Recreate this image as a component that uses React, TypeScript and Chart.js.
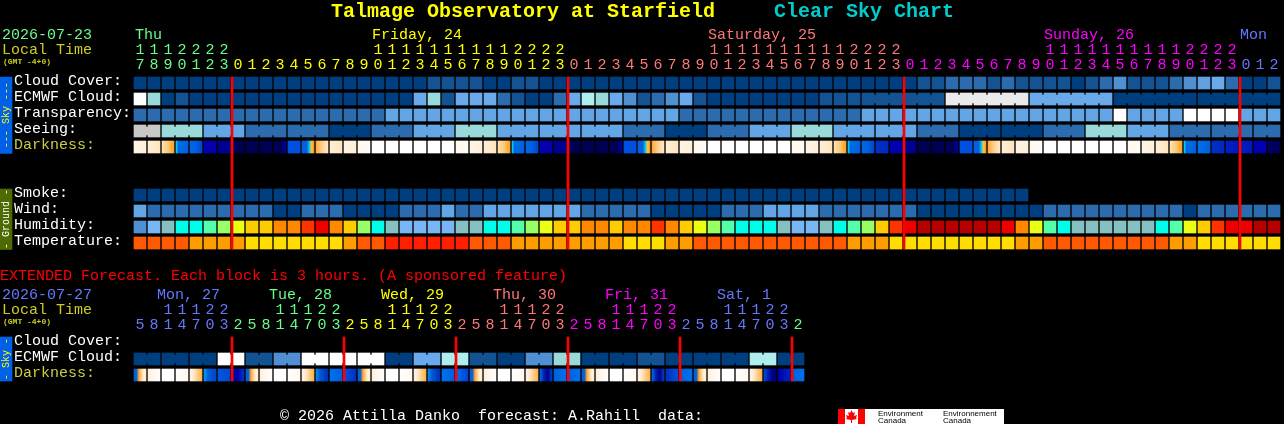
import React, { useEffect, useRef } from "react";
import { Chart, registerables } from "chart.js";

Chart.register(...registerables);

// ---------- data ----------
const titleText = "Talmage Observatory at Starfield";
const subtitleText = "Clear Sky Chart";
const extendedText = "EXTENDED Forecast. Each block is 3 hours. (A sponsored feature)";
const footerText = "© 2026 Attilla Danko  forecast: A.Rahill  data:";

const mainDate = "2026-07-23";
const extDate = "2026-07-27";

const mainHours = [17,18,19,20,21,22,23,0,1,2,3,4,5,6,7,8,9,10,11,12,13,14,15,16,17,18,19,20,21,22,23,0,1,2,3,4,5,6,7,8,9,10,11,12,13,14,15,16,17,18,19,20,21,22,23,0,1,2,3,4,5,6,7,8,9,10,11,12,13,14,15,16,17,18,19,20,21,22,23,0,1,2];
const extHours = [5,8,11,14,17,20,23,2,5,8,11,14,17,20,23,2,5,8,11,14,17,20,23,2,5,8,11,14,17,20,23,2,5,8,11,14,17,20,23,2,5,8,11,14,17,20,23,2];

const mainDayLabels = ["Thu", "Friday, 24", "Saturday, 25", "Sunday, 26", "Mon"];
const mainDayCells = [0.07, 17, 41, 65, 79];
const mainDayChanges = [0, 7, 31, 55, 79];
const extDayLabels = ["Mon, 27", "Tue, 28", "Wed, 29", "Thu, 30", "Fri, 31", "Sat, 1"];
const extDayCells = [1.64, 9.64, 17.64, 25.64, 33.64, 41.64];
const extDayChanges = [0, 7, 15, 23, 31, 39, 47];
const mainMidnights = [7, 31, 55, 79];
const extMidnights = [7, 15, 23, 31, 39, 47];

const cloudCover = [0,0,0,0,0,0,0,0,0,0,0,0,0,0,0,0,0,0,0,0,0,10,10,10,10,0,0,10,10,0,0,0,0,0,0,0,0,0,0,0,0,0,0,0,0,0,0,0,0,0,0,0,0,0,0,0,10,10,20,20,20,10,20,10,10,10,10,0,10,20,30,10,10,10,20,30,40,50,20,0,0,10];
const ecmwfCloud = [100,70,0,10,0,0,0,0,0,0,0,0,0,0,0,0,0,0,0,0,50,70,10,50,50,50,20,10,0,0,20,50,60,70,50,30,10,20,30,50,10,0,0,0,0,0,0,0,0,10,10,10,10,10,10,10,10,10,90,90,90,90,90,90,50,50,50,50,50,50,0,0,0,0,0,0,0,0,0,0,0,0];
const ecmwfGroups = [52, 58, 64, 70, 76];
const transparency = [1,1,1,1,1,1,1,1,1,1,1,1,1,1,1,1,1,1,2,2,2,2,2,2,2,2,2,2,2,2,2,2,2,2,2,2,2,2,2,1,1,1,1,1,1,1,1,1,1,1,1,1,2,2,2,2,2,2,2,2,2,2,2,2,2,2,2,2,2,2,5,2,2,2,2,5,5,5,5,2,2,2];
const seeing = [4,4,3,3,3,2,2,2,1,1,1,1,1,1,0,0,0,1,1,1,2,2,2,3,3,3,2,2,2,2,2,2,2,2,2,1,1,1,0,0,0,1,1,1,2,2,2,3,3,3,2,2,2,2,2,2,1,1,1,0,0,0,0,0,0,1,1,1,3,3,3,2,2,2,1,1,1,1,1,1,1,1];
const seeingGroups = [0,2,5,8,11,14,17,20,23,26,29,32,35,38,41,44,47,50,53,56,59,62,65,68,71,74,77,80];
const darkness = ["b","c","d","e","f","g","h","i","i","i","j","k","m","n","c","b","a","W","W","W","W","W","W","a","b","c","d","e","f","g","h","i","i","i","j","k","m","n","c","b","a","W","W","W","W","W","W","a","b","c","d","e","f","p","g","h","i","i","j","k","m","n","c","b","a","W","W","W","W","W","W","a","b","c","d","e","q","p","o","o","g","r"];
const smoke = [0,0,0,0,0,0,0,0,0,0,0,0,0,0,0,0,0,0,0,0,0,0,0,0,0,0,0,0,0,0,0,0,0,0,0,0,0,0,0,0,0,0,0,0,0,0,0,0,0,0,0,0,0,0,0,0,0,0,0,0,0,0,0,0];
const wind = [2,1,1,1,1,1,1,1,1,1,0,0,1,1,1,0,0,0,0,1,1,1,2,1,1,2,2,2,2,2,2,2,1,1,1,1,1,0,0,0,0,0,1,1,1,2,2,2,2,1,1,1,1,1,1,1,0,0,0,0,0,0,0,0,0,1,1,1,1,1,1,1,1,1,1,0,1,1,1,1,1,1];
const humidity = ["A","B","C","D","D","E","F","G","H","H","I","I","J","K","I","H","F","D","C","B","B","B","B","C","C","D","D","E","F","G","H","H","I","I","H","I","I","J","I","H","G","F","E","D","D","D","C","B","B","C","D","E","F","H","J","K","L","L","L","L","L","L","K","I","G","E","D","C","C","C","C","C","C","D","E","G","H","J","K","K","L","L"];
const temperature = ["O","O","O","O","P","P","P","P","Y","Y","Y","Y","Y","Y","Y","P","O","O","R","R","R","R","R","R","O","O","O","P","P","P","P","P","P","P","P","Y","Y","Y","P","P","O","O","O","O","O","O","O","O","O","O","O","P","P","P","Y","Y","Y","Y","Y","Y","Y","Y","Y","P","P","O","O","O","O","O","O","O","O","O","P","P","Y","Y","Y","Y","Y","Y"];
const extEcmwf = [0,0,0,0,0,0,100,100,10,10,30,30,100,100,100,100,100,100,0,0,50,50,60,60,10,10,0,0,30,30,70,70,0,0,0,0,10,10,0,0,0,0,0,0,60,60,0,0];
const extEcmwfGroups = [0,2,4,6,8,10,12,14,16,18,20,22,24,26,28,30,32,34,36,38,40,42,44,46];
const extDarkness = ["A","B","W","B2","C","D","E","F","A","B","W","B2","C","G","H","I","A","B","W","B2","C","G","H","I2","A","B","W","B2","C","K","J","J","A","B","W","B2","C","K","L","J","A","B","W","B2","C","M","N","J"];

const skyLabels = ["Cloud Cover:", "ECMWF Cloud:", "Transparency:", "Seeing:", "Darkness:"];
const groundLabels = ["Smoke:", "Wind:", "Humidity:", "Temperature:"];
const extLabels = ["Cloud Cover:", "ECMWF Cloud:", "Darkness:"];

// ---------- palettes ----------
const cloudColors: Record<number, string> = { 0: "#003f7f", 10: "#135393", 20: "#2c6cae", 30: "#4f8fd2", 40: "#5f9fe2", 50: "#6aa9ec", 60: "#aeeeee", 70: "#99d9d9", 90: "#eaeaea", 100: "#ffffff" };
const levelColors: Record<number, string> = { 0: "#003f7f", 1: "#2c6cae", 2: "#63a5e5", 3: "#99d9d9", 4: "#c8c8c8", 5: "#ffffff" };
const humidityColors: Record<string, string> = { A: "#4f8fd4", B: "#78b6f4", C: "#86c0c0", D: "#00ffe8", E: "#55ffaa", F: "#99ff66", G: "#eaff11", H: "#ffcc00", I: "#ff8800", J: "#ff3300", K: "#ee0000", L: "#b60000" };
const temperatureColors: Record<string, string> = { O: "#ff5a00", P: "#ff9c00", Y: "#ffdd00", R: "#ff2000" };
const darknessRamps: Record<string, string[]> = {
  W: ["#ffffff", "#ffffff"], a: ["#fff9f0", "#fffcf6"], b: ["#fff4e2", "#fff0dc"], c: ["#ffeed4", "#ffe4c0"],
  d: ["#ffe4b8", "#ffc878", "#ffa020"], e: ["#00e0ff", "#0068e0", "#0068e0", "#0068e0", "#0064e0", "#0060dc"],
  f: ["#0068e4", "#0060e0", "#0044c8"], g: ["#0000b0", "#0000b0"], h: ["#000090", "#000090"], i: ["#000050", "#000050"],
  j: ["#000050", "#000050", "#000060", "#0000a0"], k: ["#0050e0", "#0050e0"], m: ["#0060e0", "#0060e0", "#0060e0", "#00c8e8", "#ffc040", "#ff9820"],
  n: ["#ffa838", "#ffd090", "#ffe8c8"], o: ["#0020c0", "#0018b8"], p: ["#0030c8", "#0028c0"], q: ["#0070f0", "#0060d8"], r: ["#000060", "#000058"],
  A: ["#0060d8", "#0060d8", "#ffa030", "#ffd080", "#ffecd0", "#fff4e4"], B: ["#ffeed8", "#fff8f0", "#ffffff"], B2: ["#ffffff", "#fff8ee"],
  C: ["#fff4e4", "#ffe8c8", "#ffc880", "#ffb050"], D: ["#00a0f0", "#0060e0", "#0050d0", "#0048c8"], E: ["#0058dc", "#0048d0"],
  F: ["#0030c0", "#0000a0", "#0000a8", "#0020c0", "#0030c8"], G: ["#0090f0", "#0058d8", "#0040c0", "#0030b8"], H: ["#0070f0", "#0060e0"],
  I: ["#0050e0", "#0030c0"], I2: ["#0070f0", "#0040d0"], J: ["#0060d8", "#0070f0"], K: ["#0070e8", "#0020a8", "#000090", "#0040c0"],
  L: ["#0030c0", "#0050d8"], M: ["#0050d0", "#0020b0", "#000090", "#000070"], N: ["#0000a8", "#0020c0"],
};
const dayCycleMain = ["#66ff88", "#ffff00", "#ff7777", "#ff00ff", "#6677ff"];
const dayCycleExt = ["#6677ff", "#66ff88", "#ffff00", "#ff7777", "#ff00ff", "#6677ff", "#66ff88"];

// ---------- geometry of the plot (1 x unit = one 14px column, 1 y unit = one 16px row) ----------
const W = 1284;
const H = 424;
const X0 = 140, XSTEP = 14, Y0 = 83, YSTEP = 16;
const HALF = 0.375;
const ROW = { cloud: 0, ecmwf: 1, transp: 2, seeing: 3, dark: 4, smoke: 7, wind: 8, humidity: 9, temp: 10, xCloud: 16.25, xEcmwf: 17.25, xDark: 18.25 };
const MIDNIGHT_OFFSET = 6 / 14;
const SIDEBAR_X = (6 - X0) / XSTEP;

type Pt = { x: number; y: [number, number] };

const cells = (n: number, row: number): Pt[] =>
  Array.from({ length: n }, (_, i) => ({ x: i, y: [row - HALF, row + HALF] as [number, number] }));

function cellDataset(colors: string[], row: number) {
  return { type: "bar", data: cells(colors.length, row), backgroundColor: colors, barThickness: 12, order: 5 };
}

function bridgeDataset(colors: string[], row: number, groups: number[]) {
  const pts: Pt[] = [];
  const cols: string[] = [];
  groups.forEach((start, g) => {
    const end = g + 1 < groups.length ? groups[g + 1] : colors.length;
    for (let i = start; i < end - 1; i++) {
      pts.push({ x: i + 0.5, y: [row - 0.25, row + 0.25] });
      cols.push(colors[i]);
    }
  });
  return { type: "bar", data: pts, backgroundColor: cols, barThickness: 2, order: 5 };
}

function gradientDataset(codes: string[], row: number) {
  return {
    type: "bar",
    data: cells(codes.length, row),
    barThickness: 12,
    order: 5,
    backgroundColor: (ctx: any) => {
      if (ctx.type !== "data") return "#000";
      const ramp = darknessRamps[codes[ctx.dataIndex]];
      const scaled = ctx.chart.scales.x.getPixelForValue(ctx.dataIndex);
      const px = Number.isFinite(scaled) ? scaled : X0 + XSTEP * ctx.dataIndex;
      const g = ctx.chart.ctx.createLinearGradient(px - 6, 0, px + 6, 0);
      ramp.forEach((c: string, k: number) => g.addColorStop(k / (ramp.length - 1), c));
      return g;
    },
  };
}

function redLines(midnights: number[], top: number, bottom: number) {
  return {
    type: "bar",
    data: midnights.map((m) => ({ x: m - MIDNIGHT_OFFSET, y: [top, bottom] })),
    backgroundColor: "#ff0000",
    barThickness: 2,
    order: 1,
  };
}

function sidebar(top: number, bottom: number, color: string) {
  return { type: "bar", data: [{ x: SIDEBAR_X, y: [top, bottom] }], backgroundColor: color, barThickness: 12, order: 5 };
}

const dayColor = (i: number, changes: number[], cycle: string[]) => {
  let k = 0;
  changes.forEach((c, j) => { if (i >= c) k = j; });
  return cycle[k];
};

const MONO = '"Liberation Mono", monospace';

const textPlugin = {
  id: "chartText",
  beforeDraw(chart: any) {
    const c = chart.ctx;
    c.save();
    c.fillStyle = "#000";
    c.fillRect(0, 0, W, H);
    c.restore();
  },
  afterDraw(chart: any) {
    const c: CanvasRenderingContext2D = chart.ctx;
    const xs = chart.scales.x;
    const ys = chart.scales.y;
    const put = (t: string, x: number, y: number, color: string, font = `15px ${MONO}`, align: CanvasTextAlign = "left") => {
      c.font = font;
      c.fillStyle = color;
      c.textAlign = align;
      c.textBaseline = "alphabetic";
      c.fillText(t, x, y);
    };
    c.save();
    put(titleText, 331, 17, "#ffff00", `bold 20px ${MONO}`);
    put(subtitleText, 774, 17, "#00cccc", `bold 20px ${MONO}`);

    // main header
    put(mainDate, 2, 39, "#66ff88");
    put("Local Time", 2, 54, "#cccc22");
    put("(GMT -4+0)", 3, 64, "#cccc22", `bold 8px ${MONO}`);
    mainDayLabels.forEach((t, k) => put(t, xs.getPixelForValue(mainDayCells[k]) - 6, 39, dayCycleMain[k]));
    mainHours.forEach((h, i) => {
      const col = dayColor(i, mainDayChanges, dayCycleMain);
      const x = xs.getPixelForValue(i);
      if (h >= 10) put(String(Math.floor(h / 10)), x, 54, col, undefined, "center");
      put(String(h % 10), x, 69, col, undefined, "center");
    });

    // row labels
    const rowLabel = (t: string, row: number, color = "#ffffff") => put(t, 14, ys.getPixelForValue(row) + 2, color);
    skyLabels.forEach((t, k) => rowLabel(t, k, k === 4 ? "#cccc44" : "#ffffff"));
    groundLabels.forEach((t, k) => rowLabel(t, ROW.smoke + k));

    // extended
    put(extendedText, 0, 280, "#ff0000");
    put(extDate, 2, 299, "#6677ff");
    put("Local Time", 2, 314, "#cccc22");
    put("(GMT -4+0)", 3, 324, "#cccc22", `bold 8px ${MONO}`);
    extDayLabels.forEach((t, k) => put(t, xs.getPixelForValue(extDayCells[k]) - 6, 299, dayCycleExt[k]));
    extHours.forEach((h, i) => {
      const col = dayColor(i, extDayChanges, dayCycleExt);
      const x = xs.getPixelForValue(i);
      if (h >= 10) put(String(Math.floor(h / 10)), x, 314, col, undefined, "center");
      put(String(h % 10), x, 329, col, undefined, "center");
    });
    extLabels.forEach((t, k) => rowLabel(t, ROW.xCloud + k, k === 2 ? "#cccc44" : "#ffffff"));

    // sidebars
    const side = (t: string, cy: number, color: string) => {
      c.save();
      c.translate(6, cy);
      c.rotate(-Math.PI / 2);
      c.font = `10px ${MONO}`;
      c.fillStyle = color;
      c.textAlign = "center";
      c.textBaseline = "middle";
      c.fillText(t, 0, 0);
      c.restore();
    };
    side("--- Sky ---", 115, "#ffff00");
    side("- Ground -", 219, "#ffffff");
    side("- Sky -", 359, "#ffff00");

    // footer and logo
    put(footerText, 280, 420, "#ffffff");
    c.fillStyle = "#ffffff";
    c.fillRect(838, 409, 166, 15);
    c.fillStyle = "#ff0000";
    c.fillRect(838, 409, 7, 15);
    c.fillRect(858, 409, 7, 15);
    c.beginPath();
    const leaf = [[851.5,410],[853,413],[855,412],[854,416],[857,415],[856,418],[857,419],[852,420],[852,423],[851,423],[851,420],[846,419],[847,418],[846,415],[849,416],[848,412],[850,413]];
    leaf.forEach(([x, y], k) => (k ? c.lineTo(x, y) : c.moveTo(x, y)));
    c.closePath();
    c.fill();
    const logoFont = '8px "Liberation Sans", sans-serif';
    put("Environment", 878, 416, "#000", logoFont);
    put("Canada", 878, 423, "#000", logoFont);
    put("Environnement", 943, 416, "#000", logoFont);
    put("Canada", 943, 423, "#000", logoFont);
    c.restore();
  },
};

export default function App() {
  const ref = useRef<HTMLCanvasElement>(null);
  useEffect(() => {
    document.body.style.margin = "0";
    document.body.style.background = "#000";
    const cloudC = cloudCover.map((v) => cloudColors[v]);
    const ecmwfC = ecmwfCloud.map((v) => cloudColors[v]);
    const seeingC = seeing.map((v) => levelColors[v]);
    const extEcmwfC = extEcmwf.map((v) => cloudColors[v]);
    const chart = new Chart(ref.current as HTMLCanvasElement, {
      type: "bar",
      data: {
        datasets: [
          cellDataset(cloudC, ROW.cloud),
          cellDataset(ecmwfC, ROW.ecmwf),
          bridgeDataset(ecmwfC, ROW.ecmwf, ecmwfGroups),
          cellDataset(transparency.map((v) => levelColors[v]), ROW.transp),
          cellDataset(seeingC, ROW.seeing),
          bridgeDataset(seeingC, ROW.seeing, seeingGroups),
          gradientDataset(darkness, ROW.dark),
          cellDataset(smoke.map((v) => levelColors[v]), ROW.smoke),
          cellDataset(wind.map((v) => levelColors[v]), ROW.wind),
          cellDataset(humidity.map((v) => humidityColors[v]), ROW.humidity),
          cellDataset(temperature.map((v) => temperatureColors[v]), ROW.temp),
          cellDataset(extEcmwfC, ROW.xEcmwf),
          bridgeDataset(extEcmwfC, ROW.xEcmwf, extEcmwfGroups),
          gradientDataset(extDarkness, ROW.xDark),
          redLines(mainMidnights, ROW.cloud - HALF, ROW.temp + HALF),
          redLines(extMidnights, ROW.xCloud - HALF, ROW.xDark + HALF),
          sidebar(ROW.cloud - HALF, ROW.dark + HALF + 0.03, "#0060e8"),
          sidebar(ROW.smoke - HALF, ROW.temp + HALF + 0.03, "#4d6b00"),
          sidebar(ROW.xCloud - HALF, ROW.xDark + HALF, "#0060e8"),
        ] as any,
      },
      options: {
        animation: false,
        responsive: false,
        devicePixelRatio: 1,
        events: [],
        layout: { padding: 0 },
        datasets: { bar: { grouped: false, borderWidth: 0 } },
        plugins: { legend: { display: false }, tooltip: { enabled: false }, title: { display: false } },
        scales: {
          x: { type: "linear", display: false, offset: false, min: -X0 / XSTEP, max: (W - X0) / XSTEP },
          y: { type: "linear", display: false, reverse: true, min: -Y0 / YSTEP, max: (H - Y0) / YSTEP },
        },
      } as any,
      plugins: [textPlugin],
    });
    return () => chart.destroy();
  }, []);
  return <canvas ref={ref} width={W} height={H} style={{ display: "block", width: W, height: H }} />;
}
